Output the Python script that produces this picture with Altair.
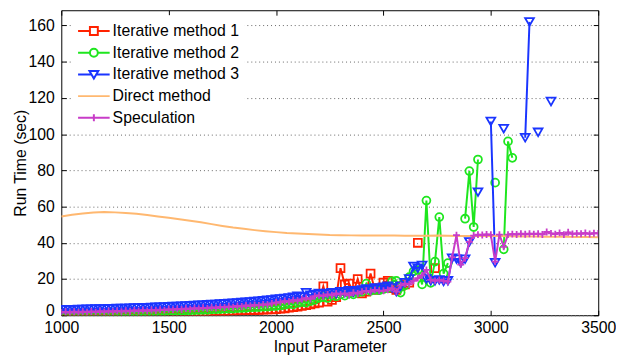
import altair as alt
import pandas as pd

FONT = "Liberation Sans"

series_names = ["Iterative method 1", "Iterative method 2", "Iterative method 3",
                "Direct method", "Speculation"]
series_colors = ["#ff2200", "#1ee61e", "#1a35ff", "#ffb870", "#c83cc8"]

x_ticks = [1000, 1500, 2000, 2500, 3000, 3500]
y_ticks = [0, 20, 40, 60, 80, 100, 120, 140, 160]

# sampling grids of the input parameter
x_iter = list(range(1000, 3501, 20))
x_direct = list(range(1000, 3501, 50))

N = None

iter1 = [
    0.3, 0.3, 0.4, 0.3, 0.4, 0.4, 0.5, 0.4, 0.5, 0.5, 0.6,
    0.6, 0.7, 0.6, 0.8, 0.8, 0.9, 0.8, 1.0, 1.0, 1.1,
    1.1, 1.2, 1.3, 1.2, 1.4, 1.5, 1.4, 1.6, 1.7, 1.7,
    1.8, 1.9, 2.0, 1.9, 2.1, 2.2, 2.3, 2.2, 2.4, 2.5,
    2.6, 2.6, 2.8, 2.9, 2.8, 3.0, 3.1, 3.2, 3.2, 3.4,
    3.6, 3.8, 4.2, 4.5, 4.8, 5.2, 5.6, 6.0, 6.5, 7.0,
    16.0, 7.5, 8.5, 10.0, 26.0, 17.0, 17.5, 13.0, 20.0, 12.0,
    13.0, 23.0, 14.0, 15.0, 18.0, 19.0, 15.0, 14.0, 16.0, 17.0,
    18.0, N, 40.0, N, N, N, 26.0, N, N, N,
    N, N, N, N, N, N, N, N, N, N,
    N, N, N, N, N, N, N, N, N, N,
    N, N, N, N, N, N, N, N, N, N,
    N, N, N, N, N,
]

iter2 = [
    0.8, 0.9, 0.9, 1.0, 1.0, 1.1, 1.1, 1.2, 1.2, 1.3, 1.3,
    1.4, 1.4, 1.5, 1.5, 1.6, 1.7, 1.7, 1.8, 1.9, 1.9,
    2.0, 2.1, 2.1, 2.2, 2.3, 2.4, 2.4, 2.5, 2.6, 2.7,
    2.8, 2.9, 3.0, 3.0, 3.2, 3.3, 3.4, 3.5, 3.6, 3.7,
    3.9, 4.0, 4.1, 4.3, 4.4, 4.5, 4.7, 4.8, 5.0, 5.1,
    5.4, 5.8, 6.3, 6.0, 6.8, 7.2, 7.0, 7.8, 8.5, 9.5,
    10.0, 9.5, 11.0, 10.5, 11.5, 10.8, 12.0, 11.5, 12.5, 13.0,
    17.5, 13.5, 14.0, 13.8, 14.5, 15.0, 18.8, 19.0, 12.5, 16.5,
    21.0, 24.2, 25.0, 17.0, 63.3, 17.9, 29.6, 54.2, 23.0, 28.8,
    N, N, N, 53.3, 79.6, 48.7, 86.0, N, N, N,
    73.2, N, 36.4, 96.0, 86.9, N, N, N, N, N,
    N, N, N, N, N, N, N, N, N, N,
    N, N, N, N, N,
]

iter3 = [
    3.0, 3.0, 3.1, 3.1, 3.2, 3.2, 3.3, 3.3, 3.4, 3.4, 3.5,
    3.6, 3.6, 3.7, 3.8, 3.8, 3.9, 4.0, 4.0, 4.1, 4.2,
    4.3, 4.4, 4.5, 4.6, 4.7, 4.8, 4.9, 5.0, 5.1, 5.2,
    5.4, 5.5, 5.6, 5.8, 5.9, 6.0, 6.2, 6.3, 6.5, 6.6,
    6.8, 7.0, 7.2, 7.4, 7.6, 7.8, 8.0, 8.3, 8.5, 8.8,
    9.0, 9.3, 9.6, 10.0, 10.5, 10.0, 12.4, 11.0, 11.5, 12.0,
    11.5, 12.0, 12.5, 12.0, 13.0, 12.5, 13.5, 12.8, 13.5, 14.0,
    14.5, 14.0, 15.0, 14.5, 15.5, 16.0, 15.0, 13.0, 16.0, 18.0,
    20.0, 27.0, 26.0, 27.5, 20.0, 19.0, 19.0, 19.5, 18.7, 19.0,
    31.5, 31.0, 29.0, 31.0, 40.5, N, 68.0, N, N, 107.0,
    29.0, N, 103.0, N, N, N, N, 98.0, 162.0, N,
    101.0, N, N, 118.0, N, N, N, N, N, N,
    N, N, N, N, N,
]

direct = [
    54.5, 55.5, 56.2, 56.7, 57.0, 56.8, 56.5, 56.0, 55.3, 54.5,
    53.8, 53.0, 52.2, 51.3, 50.3, 49.3, 48.4, 47.7, 47.0, 46.4,
    45.9, 45.4, 45.1, 44.9, 44.6, 44.3, 44.2, 44.1, 44.0, 44.0,
    44.0, 44.0, 43.9, 43.9, 43.9, 44.0, 43.9, 43.8, 43.8, 43.8,
    43.7, 43.7, 43.6, 43.5, 43.5, 43.4, 43.3, 43.3, 43.2, 43.2,
    43.1,
]

speculation = [
    1.5, 1.9, 1.4, 2.0, 1.5, 2.0, 1.6, 2.1, 1.7, 2.2, 1.8,
    2.3, 1.9, 2.4, 2.0, 2.5, 2.1, 2.7, 2.3, 2.8, 2.4,
    2.9, 2.6, 3.1, 2.8, 3.3, 3.0, 3.5, 3.2, 3.7, 3.4,
    3.9, 3.6, 4.1, 3.8, 4.3, 4.0, 4.6, 4.3, 4.8, 4.5,
    5.1, 4.8, 5.4, 5.1, 5.7, 5.4, 6.0, 5.8, 6.5, 7.0,
    7.2, 7.8, 7.5, 8.3, 8.0, 8.8, 9.5, 9.0, 10.5, 11.0,
    10.5, 11.5, 11.0, 12.0, 11.5, 12.0, 11.0, 12.5, 12.0, 13.0,
    13.5, 13.0, 14.0, 13.5, 13.5, 14.0, 15.0, 13.0, 16.5, 17.5,
    17.0, 19.0, 20.5, 22.0, 25.0, 19.5, 19.0, 19.5, 19.0, 18.5,
    32.0, 44.2, 28.0, 31.5, 40.5, 44.0, 44.5, 44.3, 44.6, 44.4,
    29.6, 44.5, 37.8, 44.5, 44.8, 44.6, 45.0, 44.7, 45.0, 44.8,
    45.0, 44.6, 46.0, 45.2, 44.8, 45.5, 44.5, 45.8, 44.9, 45.2,
    45.0, 45.4, 44.9, 45.3, 45.2,
]

# marker shapes (plot) and legend glyphs (line + marker)
plus_path = "M-1,0L1,0M0,-1L0,1"
legend_paths = [
    "M-1,0L-0.25,0M0.25,0L1,0M-0.25,-0.25L0.25,-0.25L0.25,0.25L-0.25,0.25Z",
    "M-1,0L-0.25,0M0.25,0L1,0M0.25,0A0.25,0.25 0 1,1 -0.25,0A0.25,0.25 0 1,1 0.25,0Z",
    "M-1,0L-0.15,0M0.15,0L1,0M-0.28,-0.22L0.28,-0.22L0,0.26Z",
    "M-1,0L1,0",
    "M-1,0L1,0M0,-0.22L0,0.22",
]

XS = alt.Scale(domain=[1000, 3500], nice=False, zero=False)
YS = alt.Scale(domain=[0, 168.4], nice=False, zero=False)

x_bottom = alt.Axis(orient="bottom", title="Input Parameter", values=x_ticks, format="d",
                    offset=-5, tickSize=5, labelPadding=4, domain=False, grid=False,
                    labelFlush=False, labelOverlap=False, titlePadding=4)
x_top = alt.Axis(orient="top", title=None, values=x_ticks, labels=False,
                 offset=-5, tickSize=5, domain=False, grid=False)
y_left = alt.Axis(orient="left", title="Run Time (sec)", values=y_ticks, format="d",
                  offset=-5, tickSize=5, labelPadding=7, domain=False, grid=True,
                  gridDash=[1, 3], gridColor="#666666", gridWidth=1,
                  labelFlush=True, labelFlushOffset=3, labelOverlap=False,
                  titlePadding=0)
y_right = alt.Axis(orient="right", title=None, values=y_ticks, labels=False,
                   offset=-5, tickSize=5, domain=False, grid=False)


def frame(xs, ys):
    return pd.DataFrame({"x": xs, "y": ys})


def line_layer(df, color, xaxis=None, yaxis=None):
    return alt.Chart(df).mark_line(color=color, strokeWidth=2, clip=True).encode(
        x=alt.X("x:Q", scale=XS, axis=xaxis),
        y=alt.Y("y:Q", scale=YS, axis=yaxis),
    )


def point_layer(df, color, shape, size, xaxis=None, yaxis=None):
    return alt.Chart(df).mark_point(shape=shape, color=color, filled=False, size=size,
                                    strokeWidth=1.8, opacity=1, clip=True).encode(
        x=alt.X("x:Q", scale=XS, axis=xaxis),
        y=alt.Y("y:Q", scale=YS, axis=yaxis),
    )


d1 = frame(x_iter, iter1)
d2 = frame(x_iter, iter2)
d3 = frame(x_iter, iter3)
d4 = frame(x_direct, direct)
d5 = frame(x_iter, speculation)

layers = [
    line_layer(d1, series_colors[0], x_bottom, y_left),
    point_layer(d1, series_colors[0], "square", 64, x_top, y_right),
    line_layer(d2, series_colors[1]),
    point_layer(d2, series_colors[1], "circle", 64),
    line_layer(d3, series_colors[2]),
    point_layer(d3, series_colors[2], "triangle-down", 80),
    line_layer(d4, series_colors[3]),
    line_layer(d5, series_colors[4]),
    point_layer(d5, series_colors[4], plus_path, 49),
]

legend_df = pd.DataFrame({"series": series_names, "x": [0] * 5, "y": [0] * 5})
legend_spec = alt.Legend(orient="none", legendX=11, legendY=5, title=None,
                         symbolSize=1024, symbolStrokeWidth=2, symbolOpacity=1,
                         clipHeight=22, rowPadding=0, padding=5, labelOffset=2,
                         fillColor="white", labelFont=FONT, labelFontSize=16,
                         labelColor="black", labelLimit=300)
legend_layer = alt.Chart(legend_df).mark_point(filled=False, opacity=1, clip=True).encode(
    x=alt.X("x:Q", scale=XS, axis=None),
    y=alt.Y("y:Q", scale=YS, axis=None),
    color=alt.Color("series:N", sort=series_names,
                    scale=alt.Scale(domain=series_names, range=series_colors),
                    legend=legend_spec),
    shape=alt.Shape("series:N", sort=series_names,
                    scale=alt.Scale(domain=series_names, range=legend_paths),
                    legend=legend_spec),
)
layers.append(legend_layer)

chart = alt.layer(*layers).resolve_axis(x="independent", y="independent").properties(
    width=544, height=309,
    autosize=alt.AutoSizeParams(type="none"),
    padding={"left": 54, "top": 0, "right": 18, "bottom": 38},
    background="white",
).configure_view(
    stroke="black", strokeWidth=1
).configure_axis(
    labelFont=FONT, labelFontSize=16, labelColor="black",
    titleFont=FONT, titleFontSize=16, titleFontWeight="normal", titleColor="black",
    tickColor="black", tickWidth=1,
)

chart.save("out.html", embed_options={"renderer": "svg", "actions": False})
